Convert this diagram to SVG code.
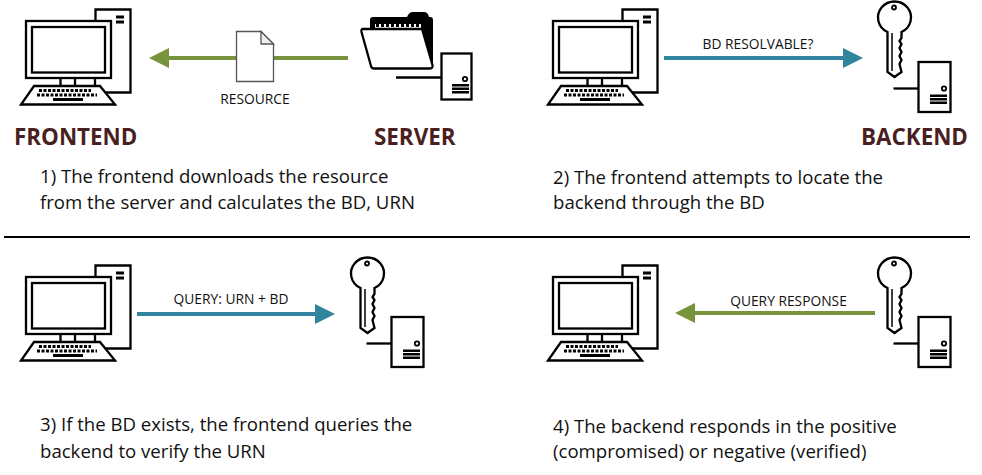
<svg xmlns="http://www.w3.org/2000/svg" width="982" height="475" viewBox="0 0 982 475">
<style>
text{font-family:"Open Sans","Noto Sans","Liberation Sans",sans-serif;fill:#111}
.h{font-size:22.400px;font-weight:700;fill:#4a1f1f}
.b{font-size:18.600px}
.l{font-size:13.800px}
.k{fill:none;stroke:#000;stroke-width:2.300}
.w{fill:#fff;stroke:#000;stroke-width:2.300}
.g{stroke:#77933c;stroke-width:4;fill:none}
.t{stroke:#31859c;stroke-width:4;fill:none}
</style>
<defs>
<marker id="ag" markerUnits="userSpaceOnUse" markerWidth="20" markerHeight="20" refX="16" refY="10" orient="auto"><path d="M0 0L20 10L0 20Z" fill="#77933c"/></marker>
<marker id="at" markerUnits="userSpaceOnUse" markerWidth="20" markerHeight="20" refX="16" refY="10" orient="auto"><path d="M0 0L20 10L0 20Z" fill="#31859c"/></marker>
<g id="pc">
<path class="w" d="M95.500 78V9.500H130.500V92.500H105"/>
<path fill="#000" d="M116 15.500h8v3h-8zM116 20.500h8v3h-8z"/>
<rect class="w" x="26" y="21" width="85" height="57"/>
<rect class="k" x="32" y="27" width="73" height="45.500"/>
<path class="k" d="M60.500 78V86M75 78V86M95 78V86"/>
<path class="w" d="M34 86H100L115 104.500H21Z"/>
<path stroke="#000" stroke-width="3" stroke-dasharray="3 1.500" fill="none" d="M39 90.500H91M37 95H97"/>
<path stroke="#000" stroke-width="3" fill="none" d="M53 99.500H83"/>
</g>
<g id="srv">
<rect class="w" x="918.500" y="62" width="32" height="50"/>
<path class="k" d="M893.500 88.500H918"/>
<circle cx="944" cy="88.500" r="2.200" fill="none" stroke="#000" stroke-width="1.800"/>
<path fill="#000" d="M930 94.500h17v2.500h-17zM930 98h17v2.500h-17zM930 101.500h17v2.500h-17z"/>
</g>
<g id="key">
<path class="w" d="M887.500 32A16.500 16 0 1 1 901.500 32V38L899.500 41L901.500 44L899.500 48L901.500 52L899.500 56L901.500 60L899.500 64L901.500 72L894.500 77L887.500 72Z"/>
<path d="M892 33V71" fill="none" stroke="#000" stroke-width="1.500"/>
<circle cx="894" cy="7.500" r="2" fill="none" stroke="#000" stroke-width="1.800"/>
</g>
</defs>

<g id="connectors">
<path class="g" d="M348 58H153" marker-end="url(#ag)"/>
<path class="t" d="M664 58H859" marker-end="url(#at)"/>
<path class="t" d="M137 314H331" marker-end="url(#at)"/>
<path class="g" d="M875 313H679" marker-end="url(#ag)"/>
<path stroke="#000" stroke-width="2" d="M4 237H970"/>
</g>

<g id="frontend-1"><use href="#pc"/></g>
<g id="server-1">
<path fill="#000" d="M370 30V20Q370 17 373 17H407Q409 12 413 12H424Q428 12 429 17H430Q433 17 433 20V66L421 28H370Z"/>
<path fill="#fff" d="M375 24h46v5h-46z"/>
<path stroke="#000" stroke-width="3" stroke-dasharray="3 2" d="M376 25.500H420"/>
<path class="w" d="M363 29H422L432.500 65Q433 68.500 430 68.500H374Q371.500 68.500 371 66L361.500 32Q361 29 363 29Z"/>
<rect class="w" x="441.500" y="53.500" width="30" height="46"/>
<path class="k" d="M396 77.500H441"/>
<circle cx="465" cy="79" r="2.200" fill="none" stroke="#000" stroke-width="1.800"/>
<path fill="#000" d="M452 84h17v2.500h-17zM452 87.500h17v2.500h-17zM452 91h17v2.500h-17z"/>
</g>
<g id="resource">
<path d="M236.500 31.500H261L273.500 44V81.500H236.500Z" fill="#fff" stroke="#555" stroke-width="1.300"/>
<path d="M261 31.500V44H273.500Z" fill="#eee" stroke="#555" stroke-width="1.300"/>
<text class="l" x="255" y="104" text-anchor="middle">RESOURCE</text>
</g>
<text class="h" x="14" y="145">FRONTEND</text>
<text class="h" x="374" y="145">SERVER</text>
<text class="b" x="40" y="183">1) The frontend downloads the resource</text>
<text class="b" x="40" y="209">from the server and calculates the BD, URN</text>

<g id="frontend-2"><use href="#pc" x="527"/></g>
<g id="backend-2"><use href="#key"/><use href="#srv"/></g>
<text class="l" x="758" y="49" text-anchor="middle">BD RESOLVABLE?</text>
<text class="h" x="861" y="145">BACKEND</text>
<text class="b" x="553" y="184">2) The frontend attempts to locate the</text>
<text class="b" x="553" y="209">backend through the BD</text>

<g id="frontend-3"><use href="#pc" y="256"/></g>
<g id="backend-3"><use href="#key" x="-527" y="256"/><use href="#srv" x="-527" y="255"/></g>
<text class="l" x="231" y="304" text-anchor="middle">QUERY: URN + BD</text>
<text class="b" x="40" y="431">3) If the BD exists, the frontend queries the</text>
<text class="b" x="40" y="458">backend to verify the URN</text>

<g id="frontend-4"><use href="#pc" x="527" y="256"/></g>
<g id="backend-4"><use href="#key" y="256"/><use href="#srv" y="255"/></g>
<text class="l" x="788.500" y="306" text-anchor="middle">QUERY RESPONSE</text>
<text class="b" x="553" y="433">4) The backend responds in the positive</text>
<text class="b" x="553" y="458">(compromised) or negative (verified)</text>
</svg>
